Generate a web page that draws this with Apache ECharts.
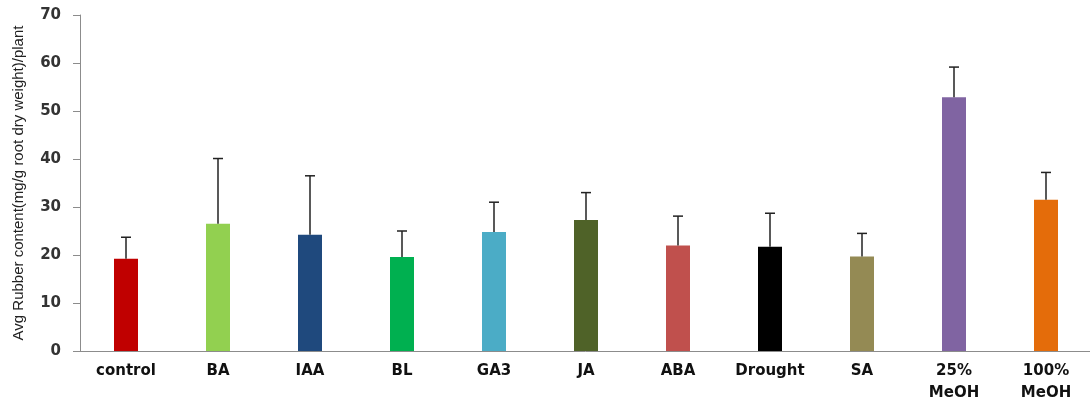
<!DOCTYPE html>
<html>
<head>
<meta charset="utf-8">
<style>
  html, body { margin: 0; padding: 0; background: #fff; }
  #chart { width: 1090px; height: 403px; }
</style>
<script src="https://cdn.jsdelivr.net/npm/echarts@6/dist/echarts.min.js"></script>
</head>
<body>
<div id="chart"></div>
<script>
// Treatments along the x axis
const categories = ['control', 'BA', 'IAA', 'BL', 'GA3', 'JA', 'ABA', 'Drought', 'SA', '25%\nMeOH', '100%\nMeOH'];
// Mean rubber content per treatment (mg/g root dry weight per plant)
const means = [19.2, 26.5, 24.2, 19.6, 24.8, 27.3, 22.0, 21.7, 19.7, 52.85, 31.5];
// Upper error (standard deviation) per treatment
const errors = [4.5, 13.6, 12.3, 5.4, 6.2, 5.7, 6.1, 7.0, 4.8, 6.3, 5.7];
// Bar fill per treatment
const colors = ['#C00000', '#92D050', '#1F497D', '#00B050', '#4BACC6', '#4F6228', '#C0504D', '#000000', '#948A54', '#8064A2', '#E46C0A'];
// Value axis ticks
const yMin = 0, yMax = 70, yStep = 10;

const chart = echarts.init(document.getElementById('chart'), null, { renderer: 'canvas' });

const barData = means.map((v, i) => ({ value: v, itemStyle: { color: colors[i] } }));
const errData = means.map((v, i) => [i, v, v + errors[i]]);

chart.setOption({
  animation: false,
  backgroundColor: '#ffffff',
  grid: { left: 80, top: 15, width: 1012, bottom: 52, containLabel: false, outerBoundsMode: 'none' },
  xAxis: {
    type: 'category',
    data: categories,
    axisLine: { show: true, lineStyle: { color: '#8c8c8c', width: 1 } },
    axisTick: { show: false },
    axisLabel: {
      interval: 0,
      margin: 9,
      lineHeight: 22,
      color: '#111',
      fontFamily: 'DejaVu Sans',
      fontWeight: 'bold',
      fontSize: 15
    }
  },
  yAxis: {
    type: 'value',
    min: yMin,
    max: yMax,
    interval: yStep,
    name: 'Avg Rubber content(mg/g root dry weight)/plant',
    nameLocation: 'middle',
    nameRotate: 90,
    nameGap: 54,
    nameTextStyle: { color: '#222', fontFamily: 'Liberation Sans', fontSize: 15 },
    axisLine: { show: true, lineStyle: { color: '#8c8c8c', width: 1 } },
    axisTick: { show: true, inside: false, length: 7, lineStyle: { color: '#8c8c8c' } },
    splitLine: { show: false },
    axisLabel: {
      margin: 19,
      color: '#333',
      fontFamily: 'DejaVu Sans',
      fontWeight: 'bold',
      fontSize: 15
    }
  },
  series: [
    {
      type: 'bar',
      data: barData,
      barWidth: 24,
      z: 2
    },
    {
      type: 'custom',
      z: 3,
      data: errData,
      encode: { x: 0, y: [1, 2] },
      renderItem: function (params, api) {
        const base = api.coord([api.value(0), api.value(1)]);
        const top = api.coord([api.value(0), api.value(2)]);
        const half = 5;
        const style = { stroke: '#222', lineWidth: 1.5 };
        return {
          type: 'group',
          children: [
            { type: 'line', shape: { x1: base[0], y1: base[1], x2: top[0], y2: top[1] }, style: style },
            { type: 'line', shape: { x1: top[0] - half, y1: top[1], x2: top[0] + half, y2: top[1] }, style: style }
          ]
        };
      }
    }
  ]
});
</script>
</body>
</html>
